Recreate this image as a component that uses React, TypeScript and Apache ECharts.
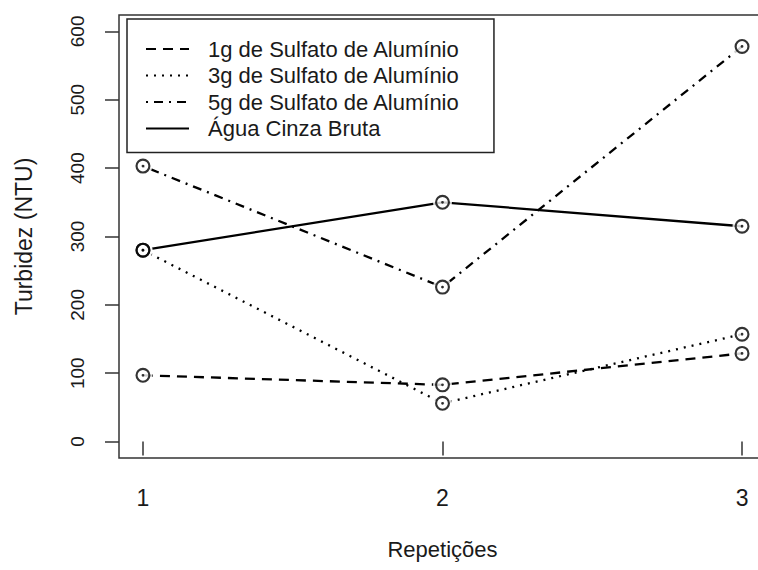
import React, { useEffect, useRef } from "react";
import * as echarts from "echarts";

// ---- data ----
const repeticoes = [1, 2, 3];
const sulfato1g = [97, 83, 129];
const sulfato3g = [280, 56, 157];
const sulfato5g = [403, 226, 578];
const aguaBruta = [280, 350, 315];

const seriesNames = [
  "1g de Sulfato de Alumínio",
  "3g de Sulfato de Alumínio",
  "5g de Sulfato de Alumínio",
  "Água Cinza Bruta",
];
const xTicks = [1, 2, 3];
const yTicks = [0, 100, 200, 300, 400, 500, 600];
const xTitle = "Repetições";
const yTitle = "Turbidez (NTU)";

const FONT = "'Liberation Sans', Arial, sans-serif";
const TEXT = "#1a1a1a";
const RING =
  "path://M7 0A7 7 0 1 1 -7 0A7 7 0 1 1 7 0Z M5 0A5 5 0 1 0 -5 0A5 5 0 1 0 5 0Z M1.3 0A1.3 1.3 0 1 1 -1.3 0A1.3 1.3 0 1 1 1.3 0Z";

export default function App() {
  const ref = useRef<HTMLDivElement>(null);

  useEffect(() => {
    if (!ref.current) return;
    const chart = echarts.init(ref.current, null, { renderer: "svg" });

    const all = [sulfato1g, sulfato3g, sulfato5g, aguaBruta];
    const dashes: any[] = [[10, 7], [2, 6], [2, 6, 9, 6], "solid"];
    const toPts = (vals: number[]) => repeticoes.map((x, i) => [x, vals[i]]);

    const lineSeries = all.map((vals, k) => ({
      type: "line",
      name: seriesNames[k],
      data: toPts(vals),
      showSymbol: false,
      symbol: "emptyCircle",
      color: "#000",
      lineStyle: { color: "#000", width: 2.3, type: dashes[k] },
      z: 2,
      silent: true,
    }));

    const allPts = all.flatMap((vals) => toPts(vals));

    const option: any = {
      animation: false,
      backgroundColor: "#fff",
      grid: {
        left: 119,
        top: 15,
        width: 647,
        height: 443,
        outerBoundsMode: "none",
        containLabel: false,
        show: true,
        borderColor: "#333",
        borderWidth: 1.5,
        backgroundColor: "transparent",
      },
      legend: {
        data: seriesNames,
        orient: "vertical",
        left: 127,
        top: 19,
        padding: [19, 34, 13, 18],
        backgroundColor: "#fff",
        borderColor: "#222",
        borderWidth: 1.5,
        borderRadius: 0,
        itemWidth: 43,
        itemHeight: 14,
        itemGap: 4.5,
        itemStyle: { opacity: 0 },
        selectedMode: false,
        textStyle: {
          fontFamily: FONT,
          fontSize: 22,
          lineHeight: 22,
          color: TEXT,
          padding: [0, 0, 0, 14],
        },
        z: 10,
      },
      xAxis: {
        type: "value",
        min: 0.92,
        max: 3.08,
        splitLine: { show: false },
        axisLine: { show: false },
        axisTick: {
          show: true,
          customValues: xTicks,
          length: 14,
          lineStyle: { color: "#333", width: 1.5 },
        },
        axisLabel: {
          customValues: xTicks,
          fontFamily: FONT,
          fontSize: 23,
          color: TEXT,
          margin: 28,
        },
        name: xTitle,
        nameLocation: "middle",
        nameGap: 80,
        nameTextStyle: { fontFamily: FONT, fontSize: 22, color: TEXT },
      },
      yAxis: {
        type: "value",
        min: -24,
        max: 624,
        splitLine: { show: false },
        axisLine: { show: false },
        axisTick: {
          show: true,
          customValues: yTicks,
          length: 14,
          lineStyle: { color: "#333", width: 1.5 },
        },
        axisLabel: {
          customValues: yTicks,
          rotate: 90,
          fontFamily: FONT,
          fontSize: 19,
          color: TEXT,
          margin: 32,
        },
        name: yTitle,
        nameLocation: "middle",
        nameGap: 84,
        nameTextStyle: { fontFamily: FONT, fontSize: 23, color: TEXT },
      },
      series: [
        ...lineSeries,
        {
          type: "scatter",
          name: "gap",
          data: allPts,
          symbol: "circle",
          symbolSize: 19,
          itemStyle: { color: "#fff" },
          z: 3,
          silent: true,
        },
        {
          type: "scatter",
          name: "pontos",
          data: allPts,
          symbol: RING,
          symbolSize: 15,
          itemStyle: { color: "#000" },
          z: 4,
          silent: true,
        },
      ],
    };

    chart.setOption(option);
    return () => chart.dispose();
  }, []);

  return (
    <div
      ref={ref}
      style={{ position: "fixed", left: 0, top: 0, width: 758, height: 570 }}
    />
  );
}
